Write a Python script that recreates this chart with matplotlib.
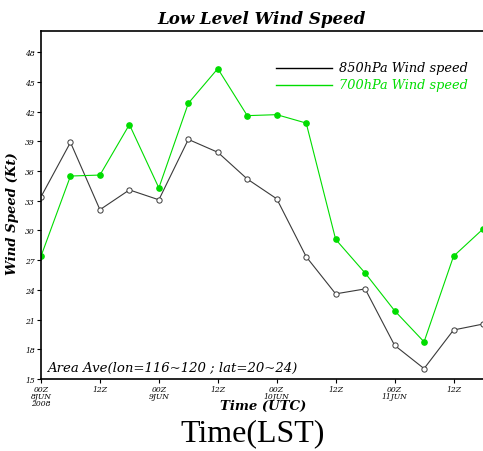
import matplotlib
matplotlib.use('Agg')
import matplotlib.pyplot as plt

# datos (cada 6 horas desde 00Z 8JUN 2008)
steps = list(range(16))
wind_850 = [33.4, 38.9, 32.1, 34.1, 33.1, 39.2, 37.9, 35.2, 33.2, 27.35, 23.6, 24.1, 18.4, 16.05, 19.95, 20.55]
wind_700 = [27.4, 35.5, 35.6, 40.7, 34.3, 42.85, 46.35, 41.6, 41.7, 40.85, 29.1, 25.7, 21.9, 18.75, 27.4, 30.15]

xtick_pos = [0, 2, 4, 6, 8, 10, 12, 14]
xtick_labels = ['00Z\n8JUN\n2008', '12Z', '00Z\n9JUN', '12Z', '00Z\n10JUN', '12Z', '00Z\n11JUN', '12Z']
ytick_vals = [15, 18, 21, 24, 27, 30, 33, 36, 39, 42, 45, 48]

serif = 'DejaVu Serif'
green = '#00dd00'
gray = '#3a3a3a'

fig = plt.figure(figsize=(4.83, 4.52), dpi=100)
ax = fig.add_axes([41/483, 1 - 380/452, 1 - 41/483, (380 - 32)/452])

ax.plot(steps, wind_850, color=gray, lw=0.8, marker='o', ms=3.8,
        mfc='white', mec=gray, mew=0.7, label='850hPa Wind speed')
ax.plot(steps, wind_700, color=green, lw=0.8, marker='o', ms=3.8,
        mfc=green, mec=green, label='700hPa Wind speed')

ax.set_xlim(0, 15)
ax.set_ylim(15, 50.15)
ax.spines['right'].set_visible(False)
for s in ['left', 'bottom', 'top']:
    ax.spines[s].set_linewidth(1.2)

ax.set_yticks(ytick_vals)
ax.set_yticklabels([str(v) for v in ytick_vals], family=serif, style='italic', fontsize=5.5)
ax.set_xticks(xtick_pos)
ax.set_xticklabels(xtick_labels, family=serif, style='italic', fontsize=5.5, linespacing=0.85)
ax.tick_params(direction='out', length=3, width=0.8, pad=1.5)
ax.tick_params(axis='x', pad=1)

ax.set_title('Low Level Wind Speed', family=serif, style='italic', weight='bold', fontsize=12, pad=6)
ax.set_ylabel('Wind Speed (Kt)', family=serif, style='italic', weight='bold', fontsize=9.5, va='center')
ax.yaxis.set_label_coords(-(41 - 13)/442, (380 - 214)/348)
ax.set_xlabel('Time (UTC)', family=serif, style='italic', weight='bold', fontsize=9.5, va='center')
ax.xaxis.set_label_coords((263 - 41)/442, -(406 - 380)/348)

# leyenda manual
ax.plot([0.532, 0.658], [0.894, 0.894], transform=ax.transAxes, color='black', lw=1.0)
ax.plot([0.532, 0.658], [0.845, 0.845], transform=ax.transAxes, color=green, lw=1.0)
ax.text(0.674, 0.894, '850hPa Wind speed', transform=ax.transAxes, family=serif,
        style='italic', fontsize=9.3, va='center', color='black')
ax.text(0.674, 0.845, '700hPa Wind speed', transform=ax.transAxes, family=serif,
        style='italic', fontsize=9.3, va='center', color=green)

ax.text(0.013, 0.034, 'Area Ave(lon=116~120 ; lat=20~24)', transform=ax.transAxes,
        family=serif, style='italic', fontsize=9.5, va='center')

fig.text(253/483, 1 - 434/452, 'Time(LST)', family='Liberation Serif', fontsize=23,
         ha='center', va='center')

plt.savefig('out.png', dpi=100)
